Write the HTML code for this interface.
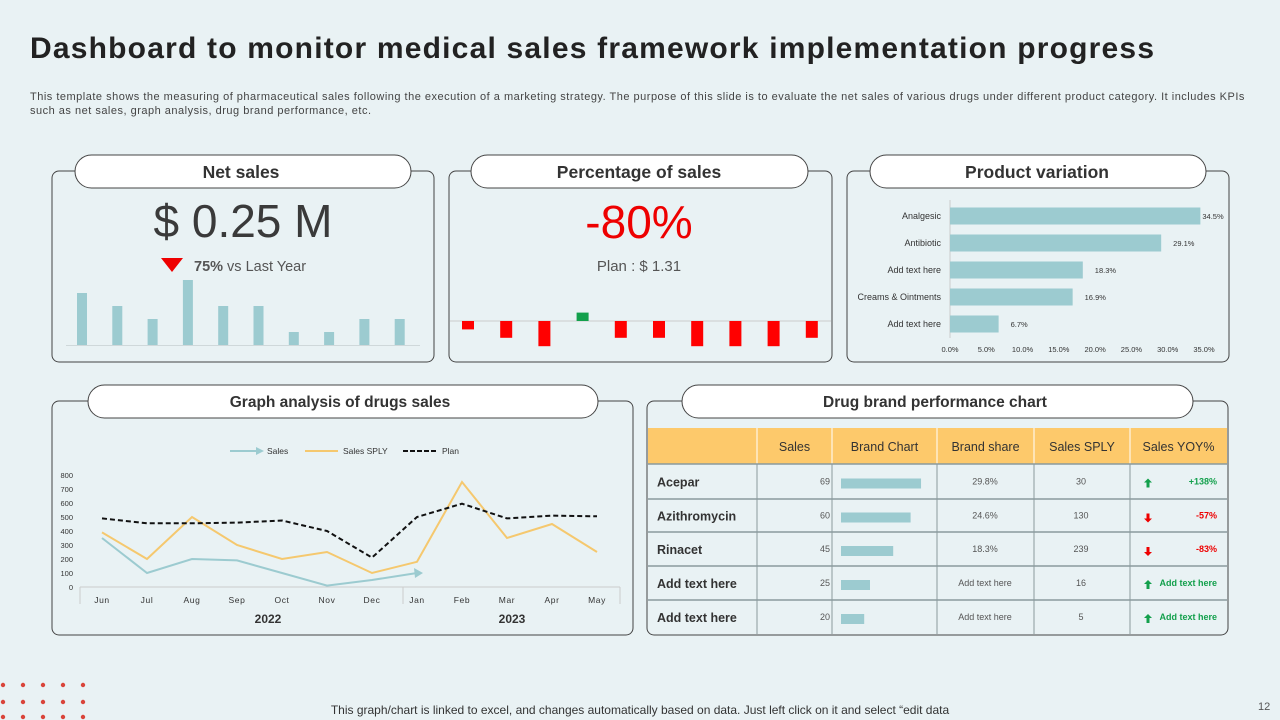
<!DOCTYPE html>
<html><head><meta charset="utf-8">
<style>
body{margin:0;width:1280px;height:720px;overflow:hidden;background:#e9f2f4;font-family:"Liberation Sans",sans-serif;position:relative}
.abs{position:absolute}
#title{left:30px;top:32px;font-size:30px;font-weight:bold;color:#222;letter-spacing:1.2px;white-space:nowrap}
#sub{left:30px;top:90px;width:1215px;font-size:11px;line-height:14px;color:#444;letter-spacing:0.5px}
svg{position:absolute;left:0;top:0}
</style></head><body>
<div class="abs" id="title">Dashboard to monitor medical sales framework implementation progress</div>
<div class="abs" id="sub">This template shows the measuring of pharmaceutical sales following the execution of a marketing strategy. The purpose of this slide is to evaluate the net sales of various drugs under different product category. It includes KPIs such as net sales, graph analysis, drug brand performance, etc.</div>
<svg id="s" width="1280" height="720" xmlns="http://www.w3.org/2000/svg" font-family="Liberation Sans, sans-serif">
<g id="panels" fill="none" stroke="#444" stroke-width="1">
<rect x="52" y="171" width="382" height="191" rx="7"/>
<rect x="449" y="171" width="383" height="191" rx="7"/>
<rect x="847" y="171" width="382" height="191" rx="7"/>
<rect x="52" y="401" width="581" height="234" rx="7"/>
<rect x="647" y="401" width="581" height="234" rx="7"/>
</g>
<g fill="#fff" stroke="#444">
<rect x="75" y="155" width="336" height="33" rx="16.5"/>
<rect x="471" y="155" width="337" height="33" rx="16.5"/>
<rect x="870" y="155" width="336" height="33" rx="16.5"/>
<rect x="88" y="385" width="510" height="33" rx="16.5"/>
<rect x="682" y="385" width="511" height="33" rx="16.5"/>
</g>
<g font-weight="bold" fill="#333" text-anchor="middle" font-size="17.5">
<text x="241" y="178">Net sales</text>
<text x="639" y="178">Percentage of sales</text>
<text x="1037" y="178">Product variation</text>
<text x="340" y="407" font-size="15.5">Graph analysis of drugs sales</text>
<text x="935" y="407" font-size="15.5">Drug brand performance chart</text>
</g>
<text x="243" y="237" text-anchor="middle" font-size="46" fill="#3a3a3a">$ 0.25 M</text>
<polygon points="161,258 183,258 172,272" fill="#e00"/>
<text x="194" y="271" font-size="14.5" fill="#555"><tspan font-weight="bold">75%</tspan> vs Last Year</text>
<text x="639" y="238" text-anchor="middle" font-size="46" fill="#e00">-80%</text>
<text x="639" y="271" text-anchor="middle" font-size="15" fill="#555">Plan : $ 1.31</text>
<g id="netbars"></g><g id="pctbars"></g><g id="prodbars"></g><g id="linechart"></g><g id="table"></g>
<g id="dots" fill="#d9443a"></g>
<text x="640" y="714" text-anchor="middle" font-size="12" fill="#333">This graph/chart is linked to excel,  and changes automatically based on data. Just left click on it and select “edit data</text>
<text x="1258" y="710" font-size="11" fill="#555">12</text>
</svg>
<script>
const netValues=[4,3,2,5,3,3,1,1,2,2];
const pctValues=[-1,-2,-3,1,-2,-2,-3,-3,-3,-2];
const prodCats=["Analgesic","Antibiotic","Add text here","Creams & Ointments","Add text here"];
const prodValues=[34.5,29.1,18.3,16.9,6.7];
const prodTicks=[0,5,10,15,20,25,30,35];
const months=["Jun","Jul","Aug","Sep","Oct","Nov","Dec","Jan","Feb","Mar","Apr","May"];
const salesValues=[350,100,200,190,100,10,50,100];
const splyValues=[390,200,500,300,200,250,100,180,750,350,450,250];
const planValues=[490,455,455,460,475,400,210,500,595,490,510,505];
const yTicks=[0,100,200,300,400,500,600,700,800];
const brandNames=["Acepar","Azithromycin","Rinacet","Add  text here","Add  text here"];
const brandSales=[69,60,45,25,20];
const brandShare=["29.8%","24.6%","18.3%","Add text here","Add text here"];
const brandSPLY=[30,130,239,16,5];
const brandYOY=["+138%","-57%","-83%","Add text here","Add text here"];
const brandUp=[true,false,false,true,true];

const NS="http://www.w3.org/2000/svg";
function mk(parent,tag,attrs,txt){const e=document.createElementNS(NS,tag);for(const k in attrs)e.setAttribute(k,attrs[k]);if(txt!==undefined)e.textContent=txt;parent.appendChild(e);return e;}
{const g=document.getElementById('netbars');const base=345,u=13,x0=82,step=35.3;
mk(g,'line',{x1:66,x2:420,y1:base+0.5,y2:base+0.5,stroke:'#cfd8da'});
netValues.forEach((v,i)=>{const r=mk(g,'rect',{x:x0+i*step-5,y:base-v*u,width:10,height:v*u,fill:'#9ccbd0'});

});}
{const g=document.getElementById('pctbars');const base=321,u=8.4,x0=468,step=38.2;
mk(g,'line',{x1:450,x2:831,y1:base,y2:base,stroke:'#ccc'});
pctValues.forEach((v,i)=>{const h=Math.abs(v)*u;const r=mk(g,'rect',{x:x0+i*step-6,y:v>0?base-h:base,width:12,height:h,fill:v>0?'#12a04c':'#f00'});

});}
{const g=document.getElementById('prodbars');const x0=950,sx=v=>x0+v*254/35;
mk(g,'line',{x1:x0,x2:x0,y1:200,y2:338,stroke:'#ccc'});
prodCats.forEach((c,i)=>{const cy=216+i*27;
const t=mk(g,'text',{x:941,y:cy+3,'text-anchor':'end','font-size':9,fill:'#333'},c);


const r=mk(g,'rect',{x:x0,y:cy-8.5,width:sx(prodValues[i])-x0,height:17,fill:'#9ccbd0'});


const l=mk(g,'text',{x:sx(prodValues[i])+(i==0?2:12),y:cy+3,'font-size':7.5,fill:'#333'},prodValues[i].toFixed(1)+'%');

});
prodTicks.forEach(t=>{const e=mk(g,'text',{x:sx(t),y:352,'text-anchor':'middle','font-size':7.5,fill:'#333'},t.toFixed(1)+'%');

});}
{const g=document.getElementById('linechart');const X=i=>102+i*45,Y=v=>587-v*0.14;
yTicks.forEach(t=>{const e=mk(g,'text',{x:73,y:Y(t)+3,'text-anchor':'end','font-size':7.5,fill:'#333'},t);

});
mk(g,'line',{x1:80,x2:620,y1:587,y2:587,stroke:'#ccc'});
[80,403,620].forEach(x=>mk(g,'line',{x1:x,x2:x,y1:587,y2:604,stroke:'#ccc'}));
months.forEach((m,i)=>{const e=mk(g,'text',{x:X(i),y:603,'text-anchor':'middle','font-size':8.5,fill:'#333','letter-spacing':'0.6'},m);

});
mk(g,'text',{x:268,y:623,'text-anchor':'middle','font-size':12,'font-weight':'bold',fill:'#333'},'2022');
mk(g,'text',{x:512,y:623,'text-anchor':'middle','font-size':12,'font-weight':'bold',fill:'#333'},'2023');
const pts=a=>a.map((v,i)=>X(i)+','+Y(v)).join(' ');
const l1=mk(g,'polyline',{points:pts(splyValues),fill:'none',stroke:'#f5c86e','stroke-width':2});


const l2=mk(g,'polyline',{points:pts(salesValues),fill:'none',stroke:'#9ccbd0','stroke-width':2});


const n=salesValues.length-1,ex=X(n),ey=Y(salesValues[n]);
mk(g,'polygon',{points:`${ex+6},${ey} ${ex-3},${ey-5} ${ex-2},${ey+5}`,fill:'#9ccbd0'});
const l3=mk(g,'polyline',{points:pts(planValues),fill:'none',stroke:'#111','stroke-width':2,'stroke-dasharray':'5,3'});


mk(g,'line',{x1:230,x2:258,y1:451,y2:451,stroke:'#9ccbd0','stroke-width':2});
mk(g,'polygon',{points:'264,451 256,447 256,455',fill:'#9ccbd0'});
mk(g,'text',{x:267,y:454,'font-size':8.5,fill:'#333'},'Sales');
mk(g,'line',{x1:305,x2:338,y1:451,y2:451,stroke:'#f5c86e','stroke-width':2});
mk(g,'text',{x:343,y:454,'font-size':8.5,fill:'#333'},'Sales SPLY');
mk(g,'line',{x1:403,x2:437,y1:451,y2:451,stroke:'#111','stroke-width':2,'stroke-dasharray':'5,2'});
mk(g,'text',{x:442,y:454,'font-size':8.5,fill:'#333'},'Plan');}
{const g=document.getElementById('table');const cols=[648,757,832,937,1034,1130,1227];const rows=[464,499,532,566,600,634];
mk(g,'rect',{x:648,y:428,width:579,height:36,fill:'#fdc96b'});
const hd=["","Sales","Brand Chart","Brand share","Sales SPLY","Sales YOY%"];
hd.forEach((h,i)=>{if(i){mk(g,'line',{x1:cols[i],x2:cols[i],y1:428,y2:464,stroke:'#fff'});
const e=mk(g,'text',{x:(cols[i]+cols[i+1])/2,y:451,'text-anchor':'middle','font-size':12.5,fill:'#333'},h);

}});
for(let i=1;i<cols.length-1;i++)mk(g,'line',{x1:cols[i],x2:cols[i],y1:464,y2:634,stroke:'#8a9a9d'});
rows.forEach((y,i)=>{if(i<rows.length-1)mk(g,'line',{x1:648,x2:1227,y1:y,y2:y,stroke:'#8a9a9d','stroke-width':1.5});});
brandNames.forEach((n,i)=>{const cy=(rows[i]+rows[i+1])/2;
const t=mk(g,'text',{x:657,y:cy+5,'font-size':12.5,'font-weight':'bold',fill:'#333'},n);


mk(g,'text',{x:830,y:cy+3,'text-anchor':'end','font-size':9,fill:'#555'},brandSales[i]);
const r=mk(g,'rect',{x:841,y:cy-5+2,width:brandSales[i]*1.16,height:10,fill:'#9ccbd0'});


mk(g,'text',{x:985,y:cy+3,'text-anchor':'middle','font-size':9,fill:'#555'},brandShare[i]);
mk(g,'text',{x:1081,y:cy+3,'text-anchor':'middle','font-size':9,fill:'#555'},brandSPLY[i]);
const up=brandUp[i],col=up?'#13a04c':'#e00',ax=1148,ay=cy+2;
mk(g,'polygon',{points:up?`${ax},${ay-5} ${ax+4},${ay-1} ${ax+1.5},${ay-1} ${ax+1.5},${ay+4} ${ax-1.5},${ay+4} ${ax-1.5},${ay-1} ${ax-4},${ay-1}`:`${ax},${ay+5} ${ax+4},${ay+1} ${ax+1.5},${ay+1} ${ax+1.5},${ay-4} ${ax-1.5},${ay-4} ${ax-1.5},${ay+1} ${ax-4},${ay+1}`,fill:col});
mk(g,'text',{x:1217,y:cy+3,'text-anchor':'end','font-size':9,'font-weight':'bold',fill:col},brandYOY[i]);});}
{const g=document.getElementById('dots');[685,702,717].forEach(y=>[3,23,43,63,83].forEach(x=>mk(g,'circle',{cx:x,cy:y,r:2.2})));}
</script>
</body></html>
